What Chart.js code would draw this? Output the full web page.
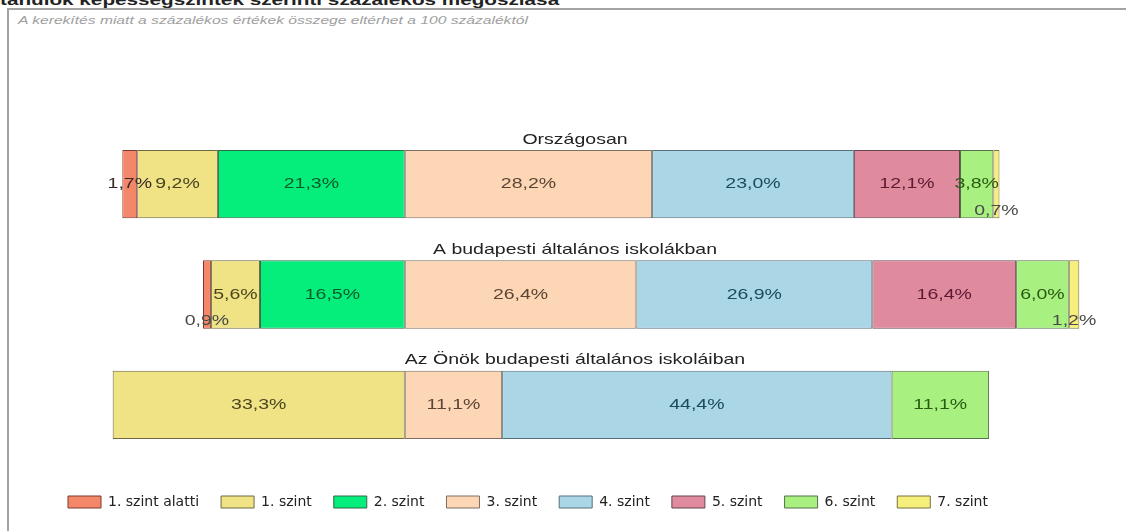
<!DOCTYPE html>
<html lang="hu">
<head>
<meta charset="utf-8">
<title>Képességszintek</title>
<script src="https://cdn.jsdelivr.net/npm/chart.js@4.4.1/dist/chart.umd.min.js"></script>
<style>
  html, body { margin: 0; padding: 0; background: #fff; overflow: hidden; }
  body { width: 1126px; height: 531px; position: relative; font-family: "Liberation Sans", Arial, sans-serif; }
  .heading { position: absolute; left: 0; top: -9px; font-size: 15px; font-weight: bold; color: #222; white-space: nowrap; transform: scaleX(1.38); transform-origin: left top; }
  .frame { position: absolute; left: 7px; top: 8px; width: 1200px; height: 600px; border: 2px solid #a3a3a3; box-sizing: border-box; }
  .note { position: absolute; left: 18px; top: 14px; font-size: 11px; font-style: italic; color: #a0a0a0; white-space: nowrap; transform: scaleX(1.42); transform-origin: left top; }
  .wrap { position: absolute; left: 0; top: 0; width: 1126px; height: 531px; }
</style>
</head>
<body>
<div class="heading">tanulók képességszintek szerinti százalékos megoszlása</div>
<div class="frame"></div>
<div class="note">A kerekítés miatt a százalékos értékek összege eltérhet a 100 százaléktól</div>
<div class="wrap"><canvas id="levelsChart"></canvas></div>
<script>
const levels = ['1. szint alatti', '1. szint', '2. szint', '3. szint', '4. szint', '5. szint', '6. szint', '7. szint'];
const groups = ['Országosan', 'A budapesti általános iskolákban', 'Az Önök budapesti általános iskoláiban'];

const orszagosan = [1.7, 9.2, 21.3, 28.2, 23.0, 12.1, 3.8, 0.7];
const budapest = [0.9, 5.6, 16.5, 26.4, 26.9, 16.4, 6.0, 1.2];
const onok = [0, 33.3, 0, 11.1, 44.4, 0, 11.1, 0];

const fills = ['#f4866a', '#efe386', '#05ee7c', '#fdd6b5', '#aad6e6', '#e08a9e', '#a8f080', '#f6ef7c'];
const borders = ['#7a3a2a', '#6e6840', '#2f6a44', '#7c6e62', '#55707a', '#634550', '#55704a', '#7a7240'];
const labelInk = ['#3a2a24', '#4a4520', '#0a5a2a', '#5a4535', '#1d4a5e', '#5a1a30', '#2a5a10', '#444'];

const rows = [orszagosan, budapest, onok];

// levels below 3. szint sit to the left of the zero line
function spans(values) {
    let pos = -(values[0] + values[1] + values[2]);
    return values.map((v) => {
        const span = v > 0 ? [pos, pos + v] : null;
        pos += v;
        return span;
    });
}

const rowSpans = rows.map(spans);
const fmt = (v) => v.toFixed(1).replace('.', ',') + '%';

const barLabels = {
    id: 'barLabels',
    afterDatasetsDraw(chart) {
        const { ctx } = chart;
        ctx.save();
        ctx.font = '15px "Liberation Sans", Arial, sans-serif';
        ctx.textAlign = 'center';

        chart.data.datasets.forEach((ds, i) => {
            chart.getDatasetMeta(i).data.forEach((bar, j) => {
                const v = rows[j][i];
                if (!v) {
                    return;
                }
                const small = v < 1.5;
                const cx = (bar.x + bar.base) / 2;
                const cy = small ? bar.y + bar.height / 2 - 8 : bar.y;
                ctx.textBaseline = 'middle';
                ctx.fillStyle = small ? '#4a4a4a' : labelInk[i];
                ctx.save();
                ctx.translate(cx, cy);
                ctx.scale(1.3, 1);
                ctx.fillText(fmt(v), 0, 0);
                ctx.restore();
            });
        });

        // group headings above each bar
        const ref = chart.getDatasetMeta(3).data;
        groups.forEach((g, j) => {
            const top = ref[j].y - ref[j].height / 2;
            ctx.textBaseline = 'bottom';
            ctx.fillStyle = '#222';
            ctx.save();
            ctx.translate(575, top - 3);
            ctx.scale(1.3, 1);
            ctx.fillText(g, 0, 0);
            ctx.restore();
        });
        ctx.restore();
    },
};

new Chart(document.getElementById('levelsChart'), {
    type: 'bar',
    data: {
        labels: groups,
        datasets: levels.map((label, i) => ({
            label,
            data: rowSpans.map((r) => r[i]),
            backgroundColor: fills[i],
            borderColor: borders[i],
            borderWidth: 1,
            borderSkipped: false,
            grouped: false,
            barPercentage: 0.62,
            categoryPercentage: 1,
        })),
    },
    options: {
        indexAxis: 'y',
        responsive: true,
        maintainAspectRatio: false,
        animation: false,
        layout: { padding: { left: 46, right: 16, top: 129, bottom: 12 } },
        scales: {
            x: {
                min: -40.9,
                max: 80.4,
                ticks: { display: false },
                grid: { display: false },
                border: { display: false },
                afterFit: (scale) => { scale.height = 13; },
            },
            y: { display: false },
        },
        plugins: {
            legend: {
                position: 'bottom',
                align: 'start',
                labels: {
                    boxWidth: 33,
                    boxHeight: 12,
                    padding: 22,
                    color: '#222',
                    font: { family: 'DejaVu Sans', size: 14 },
                },
            },
            tooltip: { enabled: false },
        },
    },
    plugins: [barLabels],
});
</script>
</body>
</html>
